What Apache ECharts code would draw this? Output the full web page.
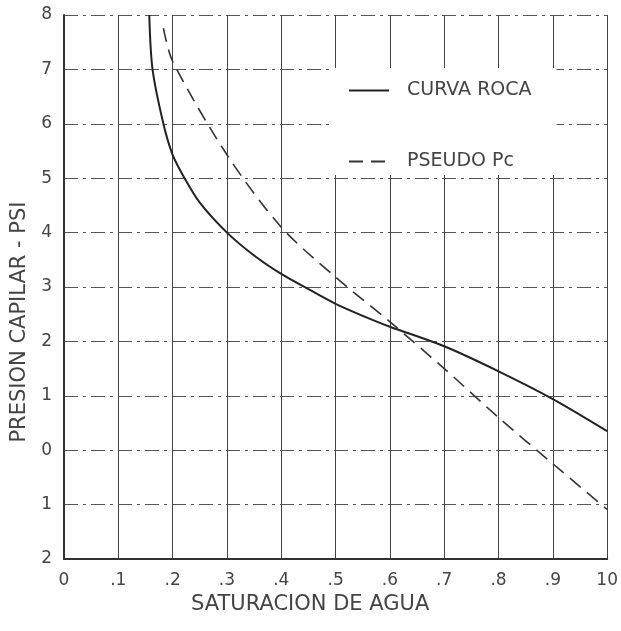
<!DOCTYPE html>
<html>
<head>
<meta charset="utf-8">
<script src="https://cdn.jsdelivr.net/npm/echarts@6/dist/echarts.min.js"></script>
<style>
  html, body { margin: 0; padding: 0; background: #fff; }
  #chart { width: 621px; height: 631px; }
</style>
</head>
<body>
<div id="chart"></div>
<script>
// Presión capilar vs saturación de agua
const xTicks = [0, 0.1, 0.2, 0.3, 0.4, 0.5, 0.6, 0.7, 0.8, 0.9, 1.0];
const xTickLabels = ["0", ".1", ".2", ".3", ".4", ".5", ".6", ".7", ".8", ".9", "10"];

const curvaRocaSw = [0.157, 0.163, 0.183, 0.2, 0.222, 0.25, 0.3, 0.35, 0.4, 0.45, 0.5, 0.55, 0.6, 0.7, 0.8, 0.9, 1.0];
const curvaRocaPc = [8.0, 7.0, 6.0, 5.43, 5.0, 4.55, 4.0, 3.58, 3.24, 2.96, 2.69, 2.47, 2.27, 1.91, 1.45, 0.94, 0.35];

const pseudoSw = [0.183, 0.2, 0.3, 0.4, 0.5, 0.6, 0.7, 0.8, 0.9, 1.0];
const pseudoPc = [7.76, 7.15, 5.43, 4.10, 3.18, 2.36, 1.5, 0.6, -0.25, -1.09];

const textColor = "#444";
const font = "DejaVu Sans";

function pairs(xs, ys) {
  return xs.map((x, i) => [x, ys[i]]);
}

const chart = echarts.init(document.getElementById("chart"));

chart.setOption({
  backgroundColor: "#fff",
  animation: false,
  grid: { left: 64, right: 12, top: 15, bottom: 72 },
  title: {
    text: "SATURACION DE AGUA",
    left: 191,
    top: 594,
    padding: 0,
    textStyle: { color: textColor, fontFamily: font, fontSize: 21, fontWeight: "normal" },
  },
  legend: {
    orient: "vertical",
    left: 331,
    top: 68,
    padding: [13, 25, 4, 17],
    itemGap: 52,
    itemWidth: 40,
    itemHeight: 14,
    backgroundColor: "#fff",
    itemStyle: { opacity: 0 },
    textStyle: { color: textColor, fontFamily: font, fontSize: 19, padding: [0, 0, 0, 13] },
    data: ["CURVA ROCA", "PSEUDO Pc"],
  },
  xAxis: {
    type: "value",
    min: 0,
    max: 1,
    interval: 0.1,
    axisLine: { show: true, onZero: false, lineStyle: { color: "#333", width: 2 } },
    axisTick: { show: false },
    axisLabel: {
      color: textColor,
      fontFamily: font,
      fontSize: 17,
      margin: 13,
      formatter(v) {
        const i = xTicks.findIndex((t) => Math.abs(t - v) < 1e-6);
        return i >= 0 ? xTickLabels[i] : "";
      },
    },
    splitLine: { show: true, lineStyle: { color: "#444", width: 1 } },
  },
  yAxis: {
    type: "value",
    min: -2,
    max: 8,
    interval: 1,
    name: "PRESION CAPILAR - PSI",
    nameLocation: "middle",
    nameGap: 34,
    nameTextStyle: { color: textColor, fontFamily: font, fontSize: 21, padding: [0, 0, 0, -70] },
    axisLine: { show: true, lineStyle: { color: "#333", width: 2 } },
    axisTick: { show: false },
    axisLabel: {
      color: textColor,
      fontFamily: font,
      fontSize: 17,
      margin: 12,
      formatter: (v) => String(Math.abs(v)),
    },
    splitLine: { show: true, lineStyle: { color: "#555", width: 1, type: [14, 5, 3, 5] } },
  },
  series: [
    {
      name: "CURVA ROCA",
      type: "line",
      smooth: 0.3,
      symbol: "none",
      data: pairs(curvaRocaSw, curvaRocaPc),
      lineStyle: { color: "#222", width: 2 },
      itemStyle: { color: "#222" },
    },
    {
      name: "PSEUDO Pc",
      type: "line",
      smooth: 0.3,
      symbol: "none",
      data: pairs(pseudoSw, pseudoPc),
      lineStyle: { color: "#333", width: 1.6, type: [14, 8] },
      itemStyle: { color: "#333" },
    },
  ],
});
</script>
</body>
</html>
